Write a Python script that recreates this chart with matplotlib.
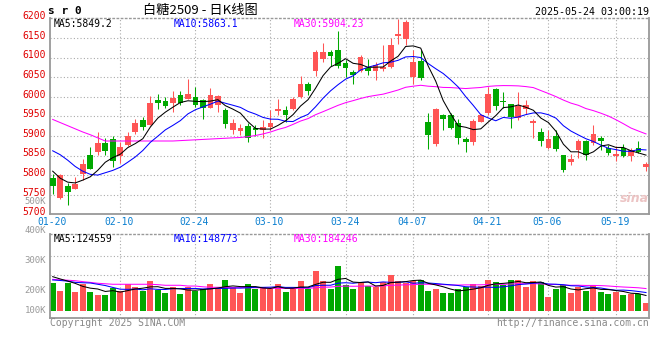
import numpy as np
import matplotlib
matplotlib.use("Agg")
import matplotlib.pyplot as plt
import matplotlib.transforms as mtransforms

# ---- data (SR2509) ----
dates = ['01-20', '01-21', '01-22', '01-23', '01-24', '01-27',
         '02-05', '02-06', '02-07', '02-10', '02-11', '02-12', '02-13', '02-14',
         '02-17', '02-18', '02-19', '02-20', '02-21', '02-24', '02-25', '02-26',
         '02-27', '02-28',
         '03-03', '03-04', '03-05', '03-06', '03-07', '03-10', '03-11', '03-12',
         '03-13', '03-14', '03-17', '03-18', '03-19', '03-20', '03-21', '03-24',
         '03-25', '03-26', '03-27', '03-28', '03-31',
         '04-01', '04-02', '04-03', '04-07', '04-08', '04-09', '04-10', '04-11',
         '04-14', '04-15', '04-16', '04-17', '04-18', '04-21', '04-22', '04-23',
         '04-24', '04-25', '04-28', '04-29', '04-30',
         '05-06', '05-07', '05-08', '05-09', '05-12', '05-13', '05-14', '05-15',
         '05-16', '05-19', '05-20', '05-21', '05-22', '05-23']

open_ = [5792, 5742, 5773, 5765, 5802, 5851, 5858, 5883, 5891, 5849,
         5877, 5909, 5940, 5929, 5991, 5989, 5985, 6004, 5994, 6000,
         5991, 5972, 5980, 5966, 5915, 5913, 5924, 5921, 5915, 5922,
         5963, 5966, 5968, 6000, 6032, 6065, 6096, 6114, 6119, 6086,
         6063, 6066, 6074, 6066, 6070, 6076, 6155, 6148, 6051, 6091,
         5936, 5879, 5953, 5953, 5933, 5892, 5885, 5936, 5959, 6020,
         5989, 5981, 5946, 5968, 5933, 5909, 5870, 5900, 5851, 5834,
         5864, 5887, 5881, 5895, 5870, 5850, 5868, 5850, 5868, 5820]
high = [5802, 5802, 5779, 5794, 5841, 5871, 5909, 5895, 5900, 5884,
        5909, 5943, 5947, 6002, 6006, 6000, 6014, 6014, 6045, 6025,
        5995, 6023, 6004, 5972, 5943, 5931, 5934, 5929, 5940, 5966,
        5994, 5976, 6000, 6052, 6038, 6119, 6137, 6119, 6167, 6093,
        6068, 6106, 6097, 6089, 6131, 6150, 6199, 6195, 6120, 6119,
        5959, 5970, 5957, 5959, 5943, 5898, 5943, 5957, 6025, 6023,
        6011, 5981, 6011, 5991, 5944, 5919, 5915, 5915, 5851, 5855,
        5893, 5890, 5928, 5899, 5876, 5873, 5880, 5868, 5887, 5833]
low = [5751, 5740, 5724, 5765, 5787, 5815, 5852, 5851, 5821, 5830,
       5873, 5904, 5914, 5928, 5968, 5970, 5962, 5980, 5994, 5974,
       5943, 5972, 5962, 5919, 5904, 5902, 5884, 5900, 5895, 5915,
       5953, 5936, 5966, 5997, 6004, 6052, 6089, 6079, 6074, 6051,
       6032, 6063, 6055, 6042, 6065, 6072, 6134, 6133, 6032, 6042,
       5866, 5875, 5915, 5917, 5880, 5858, 5878, 5936, 5953, 5966,
       5970, 5921, 5941, 5956, 5895, 5875, 5866, 5862, 5808, 5825,
       5844, 5838, 5878, 5864, 5851, 5837, 5845, 5836, 5857, 5811]
close = [5773, 5800, 5758, 5777, 5828, 5815, 5883, 5861, 5836, 5871,
         5900, 5934, 5923, 5985, 5985, 5976, 5997, 5983, 6007, 5978,
         5972, 6004, 6001, 5930, 5934, 5921, 5895, 5915, 5922, 5934,
         5968, 5953, 5994, 6032, 6015, 6114, 6114, 6104, 6079, 6074,
         6055, 6100, 6066, 6082, 6076, 6131, 6161, 6191, 6089, 6048,
         5902, 5968, 5943, 5919, 5895, 5885, 5938, 5953, 6006, 5977,
         5987, 5947, 5977, 5978, 5938, 5887, 5891, 5866, 5812, 5841,
         5887, 5851, 5906, 5886, 5857, 5853, 5850, 5864, 5859, 5829]
# volume in thousands
volume_k = [227, 164, 227, 156, 219, 156, 130, 130, 188, 162,
            215, 193, 162, 240, 169, 148, 193, 141, 196, 162,
            175, 219, 175, 248, 193, 148, 219, 175, 193, 175,
            219, 156, 177, 240, 175, 322, 240, 175, 359, 209,
            178, 222, 201, 196, 233, 288, 240, 222, 240, 248,
            162, 178, 148, 148, 178, 191, 219, 199, 248, 233,
            212, 248, 248, 196, 240, 233, 114, 181, 212, 148,
            196, 164, 209, 156, 141, 156, 127, 141, 141, 67]

# MA values at the left edge (history before 01-20 is not on the chart)
ma5_head = [5810, 5792, 5782, 5780]
ma10_head = [5862, 5852, 5838, 5822, 5810, 5802, 5800, 5806, 5812]
ma30_head = [5942, 5934, 5926, 5918, 5910, 5903, 5895, 5887, 5887, 5887,
             5887, 5887, 5887, 5887, 5887, 5887, 5887, 5888, 5889, 5890,
             5891, 5892, 5893, 5894, 5895, 5896, 5898, 5901, 5905]
vma5_head = [275, 257, 240, 222]
vma10_head = [249, 245, 240, 230, 227, 225, 215, 205, 190]
vma30_head = [254, 250, 247, 243, 236, 230, 223, 219, 215, 215,
              215, 215, 215, 215, 212, 207, 207, 207, 201, 201,
              195, 191, 191, 191, 188, 188, 188, 188, 186]

tick_labels = ['01-20', '02-10', '02-24', '03-10', '03-24',
               '04-07', '04-21', '05-06', '05-19']
price_levels = list(range(5700, 6201, 50))
vol_label_text = ['500K', '400K', '300K', '200K', '100K']
vol_label_pos = [870, 638, 401, 164, 6]   # where Sina prints them, in K

legend_price = ['MA5:5849.2', 'MA10:5863.1', 'MA30:5904.23']
legend_vol = ['MA5:124559', 'MA10:148773', 'MA30:184246']


def moving_average(values, n, head):
    v = np.asarray(values, dtype=float)
    out = np.empty(len(v))
    out[:n - 1] = head
    for i in range(n - 1, len(v)):
        out[i] = v[i - n + 1:i + 1].mean()
    return out


UP = '#ff5555'
DOWN = '#00a800'
GRID = '#aaaaaa'
SPINE = '#999999'
MONO = 'DejaVu Sans Mono'
W, H = 660, 360

x = np.arange(len(dates))
o, h, l, c = (np.array(a, dtype=float) for a in (open_, high, low, close))
vol = np.array(volume_k, dtype=float)
up = c >= o
colors = np.where(up, UP, DOWN)

fig = plt.figure(figsize=(W / 100, H / 100), dpi=100)


def fpos(px, py):
    return px / W, 1 - py / H


ax = fig.add_axes([50 / W, 1 - 214.3 / H, 599 / W, 196 / H])
axv = fig.add_axes([50 / W, 1 - 318.3 / H, 599 / W, 84 / H])

tick_idx = [dates.index(t) for t in tick_labels]

for a in (ax, axv):
    a.set_xlim(-0.36, 79.4)
    a.set_xticks([])
    a.set_yticks([])
    for s in a.spines.values():
        s.set_color(SPINE)
        s.set_linewidth(1.3)
    a.spines['top'].set_linestyle((0, (1, 2)))
    a.spines['top'].set_linewidth(1)
    for t in tick_idx[1:]:
        a.axvline(t, color=GRID, lw=0.8, ls=(0, (1, 2)), zorder=0)

# ---- price panel ----
ax.set_ylim(5700, 6200)
for p in price_levels[1:-1]:
    ax.axhline(p, color=GRID, lw=0.8, ls=(0, (1, 2)), zorder=0)

body_bottom = np.minimum(o, c)
body_h = np.maximum(np.abs(c - o), 1.2)
ax.vlines(x, l, h, colors=colors, lw=0.75, zorder=2)
ax.bar(x, body_h, bottom=body_bottom, width=0.76, color=colors, lw=0, zorder=3)

ax.plot(x, moving_average(c, 30, ma30_head), color='#ff00ff', lw=0.75, zorder=4)
ax.plot(x, moving_average(c, 10, ma10_head), color='#0000ff', lw=0.75, zorder=4)
ax.plot(x, moving_average(c, 5, ma5_head), color='black', lw=0.75, zorder=5)

ylab = mtransforms.offset_copy(ax.get_yaxis_transform(), fig=fig, x=-4, y=2, units='dots')
for p in price_levels:
    ax.text(0, p, str(p), transform=ylab, ha='right', va='center',
            color='#e00000', fontsize=7, family=MONO, clip_on=False)

xlab = mtransforms.offset_copy(ax.get_xaxis_transform(), fig=fig, x=-1, y=-7.4, units='dots')
for t, lbl in zip(tick_idx, tick_labels):
    ax.text(t, 0, lbl, transform=xlab, ha='center', va='center',
            color='#0a7fd0', fontsize=7, family=MONO, clip_on=False)

for (px, txt, col) in zip([54, 174, 294], legend_price, ['black', '#0000ff', '#ff00ff']):
    fig.text(*fpos(px, 24.3), txt, ha='left', va='center', color=col,
             fontsize=7, family=MONO)

# sina watermark
fig.text(*fpos(634, 199), 'sina', ha='center', va='center', color='#ecc4c4',
         fontsize=9, fontweight='bold', style='italic', family='DejaVu Sans')

# ---- volume panel ----
axv.set_ylim(-54, 610)
for g in (442, 286):
    axv.axhline(g, color=GRID, lw=0.8, ls=(0, (1, 2)), zorder=0)
axv.bar(x, vol, width=0.8, color=colors, lw=0, zorder=2)
axv.plot(x, moving_average(vol, 30, vma30_head), color='#ff00ff', lw=0.75, zorder=3)
axv.plot(x, moving_average(vol, 10, vma10_head), color='#0000ff', lw=0.75, zorder=3)
axv.plot(x, moving_average(vol, 5, vma5_head), color='black', lw=0.75, zorder=4)

vlab = mtransforms.offset_copy(axv.get_yaxis_transform(), fig=fig, x=-4, y=0, units='dots')
for txt, pos in zip(vol_label_text, vol_label_pos):
    axv.text(0, pos, txt, transform=vlab, ha='right', va='center',
             color='#999999', fontsize=6.5, family=MONO, clip_on=False)

for (px, txt, col) in zip([54, 174, 294], legend_vol, ['black', '#0000ff', '#ff00ff']):
    fig.text(*fpos(px, 238.7), txt, ha='left', va='center', color=col,
             fontsize=7, family=MONO)

# ---- header / footer ----
fig.text(*fpos(48, 11.5), 's r 0', ha='left', va='center', fontsize=8,
         fontweight='bold', family=MONO)
fig.text(*fpos(200, 10), '白糖2509 - 日K线图', ha='center', va='center', fontsize=9.5,
         family=['Noto Sans CJK SC', 'DejaVu Sans'])
fig.text(*fpos(649, 11.7), '2025-05-24 03:00:19', ha='right', va='center',
         fontsize=7.2, family=MONO)
fig.text(*fpos(50, 322.7), 'Copyright 2025 SINA.COM', ha='left', va='center',
         fontsize=7, family=MONO, color='#888888')
fig.text(*fpos(649, 323), 'http://finance.sina.com.cn', ha='right', va='center',
         fontsize=7, family=MONO, color='#888888')

fig.savefig('out.png', dpi=100)
